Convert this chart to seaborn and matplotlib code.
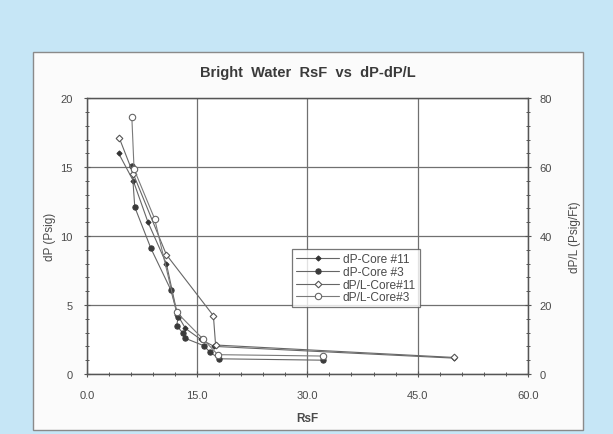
import matplotlib
matplotlib.use("Agg")
import matplotlib.pyplot as plt
import seaborn as sns
import pandas as pd
from matplotlib.patches import Rectangle
from matplotlib.ticker import MultipleLocator

# ---- data ----
rsf_dp_core11 = [4.3, 6.3, 8.3, 10.8, 12.3, 13.4, 15.5, 17.3, 49.9]
dp_core11 = [16.0, 14.0, 11.0, 8.0, 4.3, 3.3, 2.5, 2.0, 1.15]

rsf_dp_core3 = [6.1, 6.5, 8.7, 11.4, 12.4, 12.2, 13.0, 13.3, 15.9, 16.7, 18.0, 32.1]
dp_core3 = [15.1, 12.1, 9.1, 6.1, 4.1, 3.5, 3.0, 2.6, 2.05, 1.6, 1.1, 1.0]

rsf_dpl_core11 = [4.4, 6.3, 10.8, 17.2, 17.5, 49.9]
dpl_core11 = [68.4, 58.0, 34.6, 16.9, 8.4, 4.8]

rsf_dpl_core3 = [6.1, 6.4, 9.2, 12.2, 15.8, 17.8, 32.1]
dpl_core3 = [74.4, 59.4, 45.0, 17.9, 10.1, 5.6, 5.2]

x_ticks = [0, 15, 30, 45, 60]
x_tick_labels = ["0.0", "15.0", "30.0", "45.0", "60.0"]
left_ticks = [0, 5, 10, 15, 20]
right_ticks = [0, 20, 40, 60, 80]

labels = ["dP-Core #11", "dP-Core #3", "dP/L-Core#11", "dP/L-Core#3"]

sns.set_theme(style="white")
plt.rcParams['font.family'] = ['Liberation Sans', 'DejaVu Sans']

TXT = "#4a4a4a"
LINE = "#666666"
GRID = "#707070"

fig = plt.figure(figsize=(6.13, 4.35), dpi=100, facecolor="#c6e6f6")
panel = Rectangle((0.054, 0.009), 0.897, 0.869, transform=fig.transFigure,
                  facecolor="#fbfbfb", edgecolor="#8a8a8a", lw=1.0, zorder=-10)
fig.patches.append(panel)
ax = fig.add_axes([0.142, 0.138, 0.719, 0.634])
ax.set_facecolor("white")
ax2 = ax.twinx()

def df(x, y):
    return pd.DataFrame({"x": x, "y": y})

sns.lineplot(data=df(rsf_dp_core11, dp_core11), x="x", y="y", ax=ax, sort=False,
             estimator=None, color=LINE, lw=0.8, marker="D", markersize=2.6,
             markerfacecolor="#333333", markeredgecolor="#333333")
sns.lineplot(data=df(rsf_dp_core3, dp_core3), x="x", y="y", ax=ax, sort=False,
             estimator=None, color=LINE, lw=0.8, marker="o", markersize=3.8,
             markerfacecolor="#3a3a3a", markeredgecolor="#3a3a3a")
sns.lineplot(data=df(rsf_dpl_core11, dpl_core11), x="x", y="y", ax=ax2, sort=False,
             estimator=None, color=LINE, lw=0.8, marker="D", markersize=3.4,
             markerfacecolor="white", markeredgecolor="#555555", markeredgewidth=0.8)
sns.lineplot(data=df(rsf_dpl_core3, dpl_core3), x="x", y="y", ax=ax2, sort=False,
             estimator=None, color="#7a7a7a", lw=0.8, marker="o", markersize=4.6,
             markerfacecolor="white", markeredgecolor="#666666", markeredgewidth=0.8)

ax.set_xlim(0, 60)
ax.set_ylim(0, 20)
ax2.set_ylim(0, 80)
ax.set_xticks(x_ticks)
ax.set_xticklabels(x_tick_labels)
ax.set_yticks(left_ticks)
ax2.set_yticks(right_ticks)
ax.xaxis.set_minor_locator(MultipleLocator(3))
ax.yaxis.set_minor_locator(MultipleLocator(1))
ax2.yaxis.set_minor_locator(MultipleLocator(4))

ax.grid(True, which="major", color=GRID, lw=0.9)
ax.set_axisbelow(True)
for a in (ax, ax2):
    for s in a.spines.values():
        s.set_color("#555555")
        s.set_linewidth(0.9)
ax.tick_params(axis="both", which="major", direction="inout", length=5, width=0.8,
               colors="#555555", labelcolor=TXT, labelsize=8)
ax.tick_params(axis="both", which="minor", direction="inout", length=3, width=0.7,
               colors="#555555")
ax.tick_params(axis="x", which="both", bottom=True)
ax.tick_params(axis="y", which="both", left=True)
ax2.tick_params(axis="y", which="major", direction="inout", length=5, width=0.8,
                colors="#555555", labelcolor=TXT, labelsize=8, right=True)
ax2.tick_params(axis="y", which="minor", direction="inout", length=3, width=0.7,
                colors="#555555", right=True)
ax.tick_params(axis="x", pad=9)
ax.tick_params(axis="y", pad=8)
ax2.tick_params(axis="y", pad=6)

ax.set_xlabel("RsF", fontsize=8.5, fontweight="bold", color=TXT, labelpad=9)
ax.set_ylabel("dP (Psig)", fontsize=8.5, color=TXT, labelpad=3)
ax2.set_ylabel("dP/L (Psig/Ft)", fontsize=8.5, color=TXT, labelpad=12)
ax.set_title("Bright  Water  RsF  vs  dP-dP/L", fontsize=10.5, color="#3a3a3a",
             pad=16, fontweight="semibold")

handles = ax.get_lines()[:2] + ax2.get_lines()[:2]
leg = ax2.legend(handles, labels, loc="upper left", bbox_to_anchor=(0.465, 0.452),
                 fontsize=8.6, frameon=True, fancybox=False, handlelength=3.6,
                 borderpad=0.35, labelspacing=0.05, handletextpad=0.3,
                 borderaxespad=0.0)
leg.get_frame().set_edgecolor("#555555")
leg.get_frame().set_linewidth(0.9)
for t in leg.get_texts():
    t.set_color(TXT)
leg.set_zorder(10)

fig.savefig("out.png", dpi=100, facecolor=fig.get_facecolor())
